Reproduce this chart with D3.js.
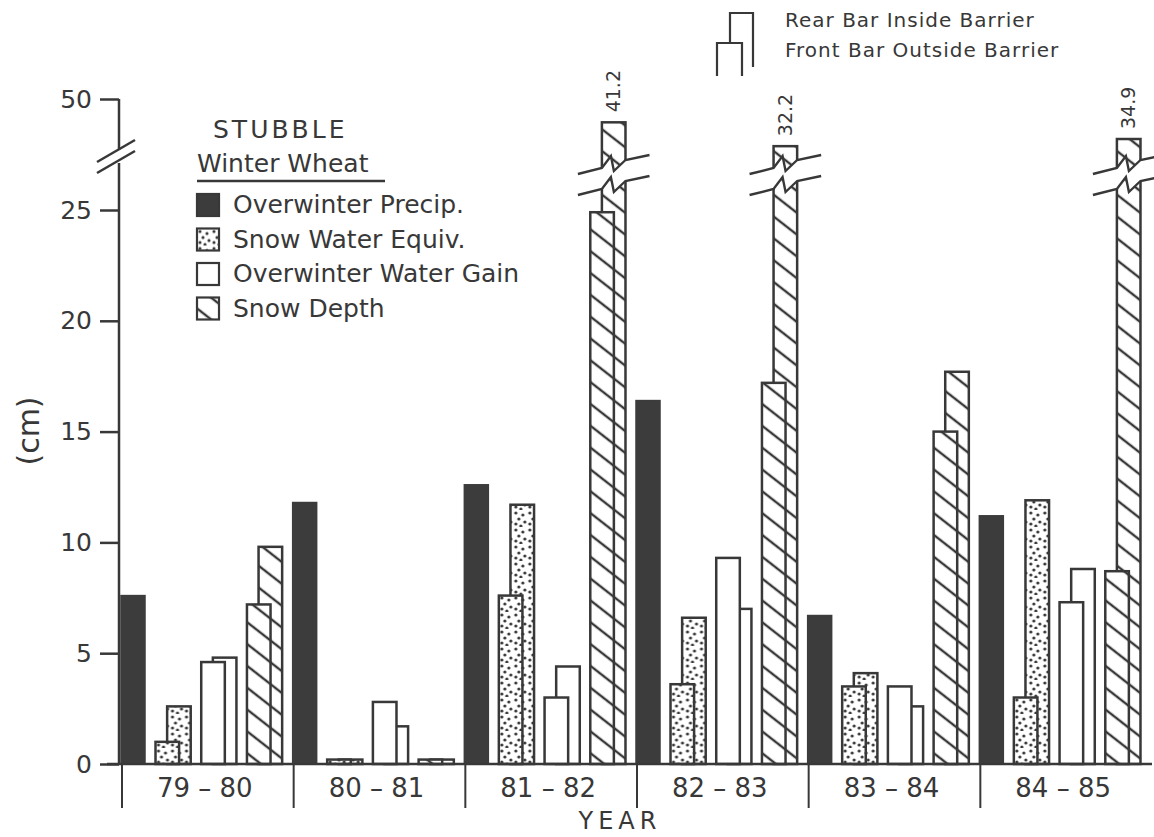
<!DOCTYPE html>
<html>
<head>
<meta charset="utf-8">
<script src="https://cdn.jsdelivr.net/npm/d3@7"></script>
<style>
  body { margin: 0; background: #fff; }
  svg { display: block; }
  text { font-family: "DejaVu Sans", sans-serif; fill: #383838; }
</style>
</head>
<body>
<div id="chart"></div>
<script>
// data (cm)
var years = ["79 – 80", "80 – 81", "81 – 82", "82 – 83", "83 – 84", "84 – 85"];
var precip = [7.6, 11.8, 12.6, 16.4, 6.7, 11.2];
var sweOutside = [1.0, 0.2, 7.6, 3.6, 3.5, 3.0];
var sweInside = [2.6, 0.2, 11.7, 6.6, 4.1, 11.9];
var gainOutside = [4.6, 2.8, 3.0, 9.3, 3.5, 7.3];
var gainInside = [4.8, 1.7, 4.4, 7.0, 2.6, 8.8];
var depthOutside = [7.2, 0.2, 24.9, 17.2, 15.0, 8.7];
var depthInside = [9.8, 0.2, 41.2, 32.2, 17.7, 34.9];
var yTicks = [0, 5, 10, 15, 20, 25];
var yTicksUpper = [50];
var legendLabels = ["Overwinter Precip.", "Snow Water Equiv.", "Overwinter Water Gain", "Snow Depth"];

var ink = "#383838";
var width = 1154, height = 837;

var svg = d3.select("#chart").append("svg")
    .attr("width", width).attr("height", height);

// patterns
var defs = svg.append("defs");
var dots = defs.append("pattern").attr("id", "dots")
    .attr("patternUnits", "userSpaceOnUse").attr("width", 14).attr("height", 17);
dots.append("rect").attr("width", 14).attr("height", 17).attr("fill", "#fff");
[[3, 3], [10, 5], [6, 9], [12, 12], [3, 14], [8, 16]].forEach(p => {
  dots.append("circle").attr("cx", p[0]).attr("cy", p[1]).attr("r", 1.6).attr("fill", ink);
});

var hatch = defs.append("pattern").attr("id", "hatch")
    .attr("patternUnits", "userSpaceOnUse").attr("width", 12).attr("height", 17.2)
    .attr("patternTransform", "rotate(38)");
hatch.append("rect").attr("width", 12).attr("height", 17.2).attr("fill", "#fff");
hatch.append("line").attr("x1", 0).attr("x2", 12).attr("y1", 8.6).attr("y2", 8.6)
    .attr("stroke", ink).attr("stroke-width", 2.4);

// scales
var y = d3.scaleLinear().domain([0, 25]).range([764, 210]);
var yUp = d3.scaleLinear().domain([30, 50]).range([152, 99]);
var yPos = v => v > 27 ? yUp(v) : y(v);

var x0 = d3.scaleBand().domain(years).range([121, 1151]);
var darkW = 24;
var x1 = d3.scaleBand().domain(["swe", "gain", "depth"])
    .range([darkW, x0.bandwidth()]).paddingInner(0.23).paddingOuter(0.23);
var barW = x1.bandwidth() * 0.67, rearShift = x1.bandwidth() - barW;
var fills = { swe: "url(#dots)", gain: "#fff", depth: "url(#hatch)" };

var groups = years.map((yr, i) => ({
  yr: yr,
  precip: precip[i],
  pairs: [
    { key: "swe", out: sweOutside[i], inside: sweInside[i] },
    { key: "gain", out: gainOutside[i], inside: gainInside[i] },
    { key: "depth", out: depthOutside[i], inside: depthInside[i] }
  ]
}));

var axisX = 119, base = y(0);

// bars
var g = svg.selectAll(".grp").data(groups).enter().append("g")
    .attr("class", "grp")
    .attr("transform", d => "translate(" + x0(d.yr) + ",0)");

g.append("rect")
    .attr("x", 0).attr("width", darkW)
    .attr("y", d => y(d.precip)).attr("height", d => base - y(d.precip))
    .attr("fill", "#3c3c3c").attr("stroke", "#3c3c3c").attr("stroke-width", 1.5);

var pair = g.selectAll(".pair").data(d => d.pairs).enter().append("g")
    .attr("class", "pair")
    .attr("transform", d => "translate(" + x1(d.key) + ",0)");

// rear bar (inside barrier) first, front bar (outside barrier) on top
pair.append("rect")
    .attr("x", rearShift).attr("width", barW)
    .attr("y", d => yPos(d.inside)).attr("height", d => base - yPos(d.inside))
    .attr("fill", d => fills[d.key]).attr("stroke", ink).attr("stroke-width", 2.5);
pair.append("rect")
    .attr("x", 0).attr("width", barW)
    .attr("y", d => yPos(d.out)).attr("height", d => base - yPos(d.out))
    .attr("fill", d => fills[d.key]).attr("stroke", ink).attr("stroke-width", 2.5);

// broken bars
var brk = pair.filter(d => d.inside > 27);
function zig(xl, xr, yc) {
  return [[xl - 24, yc + 6], [xl, yc], [xl + 9, yc - 12], [xl + 12, yc + 3], [xr, yc - 8], [xr + 24, yc - 13]];
}
var yBrk = 168, gap = 21;
brk.append("path")
    .attr("d", () => {
      var a = zig(rearShift, rearShift + barW, yBrk);
      var b = zig(rearShift, rearShift + barW, yBrk + gap).reverse();
      return d3.line()(a.concat(b)) + "Z";
    })
    .attr("fill", "#fff");
[0, gap].forEach(off => {
  brk.append("path")
      .attr("d", () => d3.line()(zig(rearShift, rearShift + barW, yBrk + off)))
      .attr("fill", "none").attr("stroke", ink).attr("stroke-width", 2.4);
});
brk.append("text")
    .attr("transform", d => "translate(" + (rearShift + barW / 2) + "," + (yPos(d.inside) - 10) + ") rotate(-90)")
    .attr("dy", "0.35em")
    .style("font-size", "19px")
    .text(d => d.inside);

// y axis
var yAxisG = svg.append("g").attr("transform", "translate(" + axisX + ",0)")
    .call(d3.axisLeft(y).tickValues(yTicks).tickSize(19).tickPadding(8));
var yAxisUp = svg.append("g").attr("transform", "translate(" + axisX + ",0)")
    .call(d3.axisLeft(yUp).tickValues(yTicksUpper).tickSize(19).tickPadding(8));
[yAxisG, yAxisUp].forEach(a => {
  a.select(".domain").remove();
  a.selectAll(".tick line").attr("stroke", ink).attr("stroke-width", 2.5);
  a.selectAll(".tick text").style("font-size", "25px").attr("fill", ink)
      .style("font-family", "DejaVu Sans");
});
svg.append("line").attr("x1", axisX).attr("x2", axisX).attr("y1", yUp(50)).attr("y2", 150)
    .attr("stroke", ink).attr("stroke-width", 2.5);
svg.append("line").attr("x1", axisX).attr("x2", axisX).attr("y1", 163).attr("y2", base)
    .attr("stroke", ink).attr("stroke-width", 2.5);
[0, 11].forEach(off => {
  svg.append("line").attr("x1", 97).attr("y1", 162 + off).attr("x2", 135).attr("y2", 140 + off)
      .attr("stroke", ink).attr("stroke-width", 2.5);
});
svg.append("text")
    .attr("transform", "translate(28,431) rotate(-90)")
    .attr("text-anchor", "middle").attr("dy", "0.35em")
    .style("font-size", "30px")
    .text("(cm)");

// x axis
svg.append("line").attr("x1", 107).attr("x2", 1152).attr("y1", base).attr("y2", base)
    .attr("stroke", ink).attr("stroke-width", 2.5);
svg.selectAll(".sep").data(years).enter().append("line")
    .attr("x1", d => x0(d) + 1).attr("x2", d => x0(d) + 1)
    .attr("y1", base).attr("y2", 808)
    .attr("stroke", ink).attr("stroke-width", 2);
svg.selectAll(".xlab").data(years).enter().append("text")
    .attr("x", d => x0(d) + x0.bandwidth() / 2 - 2).attr("y", 797)
    .attr("text-anchor", "middle")
    .style("font-size", "26px")
    .text(d => d);
svg.append("text").attr("x", 620).attr("y", 829).attr("text-anchor", "middle")
    .style("font-size", "24px").style("letter-spacing", "5px")
    .text("YEAR");

// legend
svg.append("text").attr("x", 213).attr("y", 138)
    .style("font-size", "25px").style("letter-spacing", "3px").text("STUBBLE");
svg.append("text").attr("x", 197).attr("y", 172)
    .style("font-size", "25px").text("Winter Wheat");
svg.append("line").attr("x1", 197).attr("x2", 385).attr("y1", 181).attr("y2", 181)
    .attr("stroke", ink).attr("stroke-width", 2.5);
var legFills = ["#3c3c3c", "url(#dots)", "#fff", "url(#hatch)"];
var leg = svg.selectAll(".leg").data(legendLabels).enter().append("g")
    .attr("transform", (d, i) => "translate(197," + (194 + i * 34.5) + ")");
leg.append("rect").attr("width", 22).attr("height", 22)
    .attr("fill", (d, i) => legFills[i]).attr("stroke", ink).attr("stroke-width", 2.2);
leg.append("text").attr("x", 36).attr("y", 19)
    .style("font-size", "25px").text(d => d);

// barrier key
svg.append("path").attr("d", "M717,76V43H742V76").attr("fill", "none")
    .attr("stroke", ink).attr("stroke-width", 2.2);
svg.append("path").attr("d", "M730,43V13H753V67").attr("fill", "none")
    .attr("stroke", ink).attr("stroke-width", 2.2);
svg.append("text").attr("x", 785).attr("y", 27)
    .style("font-size", "20px").style("letter-spacing", "1px").text("Rear Bar Inside Barrier");
svg.append("text").attr("x", 785).attr("y", 57)
    .style("font-size", "20px").style("letter-spacing", "1px").text("Front Bar Outside Barrier");
</script>
</body>
</html>
